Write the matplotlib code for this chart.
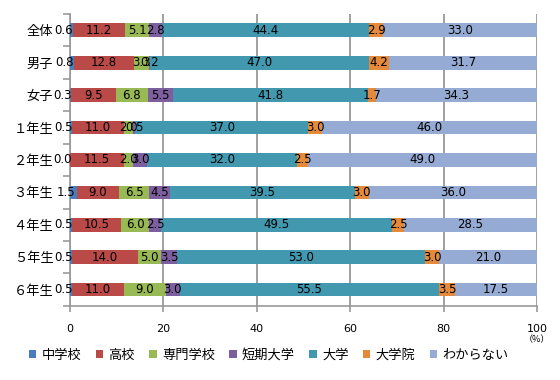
import matplotlib
matplotlib.use("Agg")
import matplotlib.pyplot as plt
import numpy as np
from matplotlib.patches import Patch

plt.rcParams['font.family'] = ['Noto Sans CJK JP', 'DejaVu Sans']

categories = ["全体", "男子", "女子", "１年生", "２年生", "３年生", "４年生", "５年生", "６年生"]
series_names = ["中学校", "高校", "専門学校", "短期大学", "大学", "大学院", "わからない"]
chugakko = [0.6, 0.8, 0.3, 0.5, 0.0, 1.5, 0.5, 0.5, 0.5]
koko = [11.2, 12.8, 9.5, 11.0, 11.5, 9.0, 10.5, 14.0, 11.0]
senmon = [5.1, 3.3, 6.8, 2.0, 2.0, 6.5, 6.0, 5.0, 9.0]
tanki = [2.8, 0.2, 5.5, 0.5, 3.0, 4.5, 2.5, 3.5, 3.0]
daigaku = [44.4, 47.0, 41.8, 37.0, 32.0, 39.5, 49.5, 53.0, 55.5]
daigakuin = [2.9, 4.2, 1.7, 3.0, 2.5, 3.0, 2.5, 3.0, 3.5]
wakaranai = [33.0, 31.7, 34.3, 46.0, 49.0, 36.0, 28.5, 21.0, 17.5]
xticks = [0, 20, 40, 60, 80, 100]

colors = ["#4a7ebb", "#b94a48", "#98b954", "#7d5fa0", "#4298af", "#e5893b", "#95abd4"]
data = [chugakko, koko, senmon, tanki, daigaku, daigakuin, wakaranai]
numfont = "DejaVu Sans"

fig = plt.figure(figsize=(5.6, 3.8), dpi=100)
ax = fig.add_axes([0.125, 0.195, 0.834, 0.768])

y = np.arange(len(categories))
left = np.zeros(len(categories))
for si, (vals, c) in enumerate(zip(data, colors)):
    vals = np.array(vals)
    ax.barh(y, vals, left=left, height=0.42, color=c, zorder=3)
    for i, v in enumerate(vals):
        if si == 0:
            ax.annotate(f"{v:.1f}", (left[i] + v / 2, y[i]), xytext=(1, 0),
                        textcoords="offset points", ha="right", va="center",
                        fontsize=8.5, family=numfont, color="black", zorder=5,
                        annotation_clip=False)
        else:
            ax.text(left[i] + v / 2, y[i], f"{v:.1f}", ha="center", va="center",
                    fontsize=8.5, family=numfont, color="black", zorder=5)
    left += vals

ax.set_xlim(0, 100)
ax.set_ylim(len(categories) - 0.5, -0.5)
ax.set_xticks(xticks)
ax.set_xticklabels([str(t) for t in xticks], fontsize=8, family=numfont)
ax.tick_params(axis='x', length=4, pad=9, color="#999999", width=1.2)
ax.set_yticks(y)
ax.set_yticklabels(categories, fontsize=9.5)
ax.tick_params(axis='y', which='major', length=0, pad=12)
ax.set_yticks(np.arange(-0.5, len(categories), 1), minor=True)
ax.tick_params(axis='y', which='minor', length=5, color="#999999", width=1.2)

ax.grid(axis='x', color="#999999", linewidth=1.3, zorder=1)
for s in ['top', 'right']:
    ax.spines[s].set_visible(False)
for s in ['left', 'bottom']:
    ax.spines[s].set_color("#999999")
    ax.spines[s].set_linewidth(1.2)

fig.text(0.958, 0.105, "（%）", fontsize=6.5, ha="center", va="center")

handles = [Patch(facecolor=c, edgecolor='none') for c in colors]
fig.legend(handles, series_names, loc="center", bbox_to_anchor=(0.48, 0.065), ncol=7,
           frameon=False, fontsize=9.5, handlelength=0.55, handleheight=0.55,
           handletextpad=0.4, columnspacing=1.1)

fig.savefig("out.png", dpi=100)
